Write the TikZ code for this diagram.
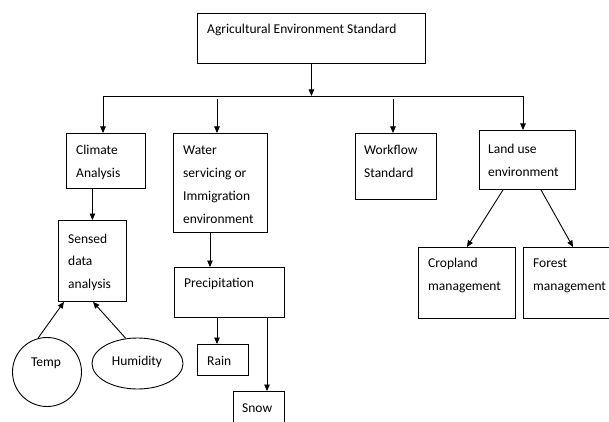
\documentclass[tikz,border=0pt]{standalone}
\usepackage{fontspec}
\setmainfont{Carlito}
\usetikzlibrary{arrows.meta,calc,shapes.geometric}
\begin{document}
\begin{tikzpicture}[x=1pt,y=-1pt,
  box/.style={draw,line width=0.9pt,inner sep=0pt,anchor=north west},
  oval/.style={draw,line width=0.9pt,ellipse,inner sep=0pt},
  txt/.style={anchor=base west,inner sep=0pt,align=left,font=\fontsize{13.5}{23}\selectfont},
  ctxt/.style={anchor=base,inner sep=0pt,font=\fontsize{13.5}{23}\selectfont},
  arr/.style={line width=0.9pt,-{Triangle[length=6.5pt,width=5.5pt]}},
  ln/.style={line width=0.9pt}]
\useasboundingbox (0,0) rectangle (609,422);
% boxes
\node[box,minimum width=228pt,minimum height=50pt] (top) at (197,13) {};
\node[box,minimum width=79pt,minimum height=55pt] (climate) at (66,133) {};
\node[box,minimum width=94pt,minimum height=99pt] (water) at (173,133) {};
\node[box,minimum width=81pt,minimum height=66pt] (workflow) at (355,133) {};
\node[box,minimum width=96pt,minimum height=59pt] (land) at (479,130) {};
\node[box,minimum width=68pt,minimum height=81pt] (sensed) at (58,220) {};
\node[box,minimum width=110pt,minimum height=50pt] (precip) at (174,267) {};
\node[box,minimum width=51pt,minimum height=31pt] (rain) at (197,344) {};
\node[box,minimum width=51pt,minimum height=33pt] (snow) at (233,391) {};
\node[box,minimum width=97pt,minimum height=71pt] (crop) at (418,247) {};
\node[box,minimum width=88pt,minimum height=71pt] (forest) at (523,247) {};
\node[oval,minimum width=69pt,minimum height=69pt] (temp) at (47,372) {};
\node[oval,minimum width=91pt,minimum height=51pt] (hum) at (137.5,363.5) {};
% texts (anchored at the baseline of their last line)
\node[txt] (ttop) at (207,34) {Agricultural Environment Standard};
\node[txt] (tclimate) at (76,177) {Climate\\Analysis};
\node[txt] (twater) at (183,223) {Water\\servicing or\\Immigration\\environment};
\node[txt] (tworkflow) at (364,177) {Workflow\\Standard};
\node[txt] (tland) at (488,176) {Land use\\environment};
\node[txt,font=\fontsize{13.5}{22.5}\selectfont] (tsensed) at (68,288) {Sensed\\data\\analysis};
\node[txt] (tprecip) at (184,287) {Precipitation};
\node[txt] (train) at (207,365) {Rain};
\node[txt] (tsnow) at (242,412) {Snow};
\node[ctxt] (ttemp) at (46,366) {Temp};
\node[ctxt] (thum) at (137,365) {Humidity};
\node[txt] (tcrop) at (428,290) {Cropland\\management};
\node[txt] (tforest) at (533,290) {Forest\\management};
% connectors
\coordinate (busL) at (103,96);
\coordinate (busR) at (523,96);
\coordinate (b2) at (217,99);
\coordinate (b3) at (393,99);
\draw[arr] (top.south) -- (top.south |- busL);
\draw[ln] (busL) -- (busR);
\draw[arr] (busL) -- (busL |- climate.north);
\draw[arr] (b2) -- (b2 |- water.north);
\draw[arr] (b3) -- (b3 |- workflow.north);
\draw[arr] (busR) -- (busR |- land.north);
\draw[arr] (sensed.north |- climate.south) -- (sensed.north);
\coordinate (wp) at ($(water.south west)+(37,0)$);
\draw[arr] (wp) -- (wp |- precip.north);
\coordinate (pr) at ($(precip.south west)+(43,0)$);
\draw[arr] (pr) -- (pr |- rain.north);
\coordinate (ps) at ($(precip.south west)+(93,0)$);
\draw[arr] (ps) -- (ps |- snow.north);
\draw[arr] (temp.105) -- ($(sensed.south west)+(6,0)$);
\draw[arr] (hum.115) -- ($(sensed.south west)+(35,0)$);
\draw[arr] ($(land.south west)+(24,0)$) -- (crop.north);
\draw[arr] ($(land.south west)+(62,0)$) -- ($(forest.north west)+(50,0)$);
\end{tikzpicture}
\end{document}
